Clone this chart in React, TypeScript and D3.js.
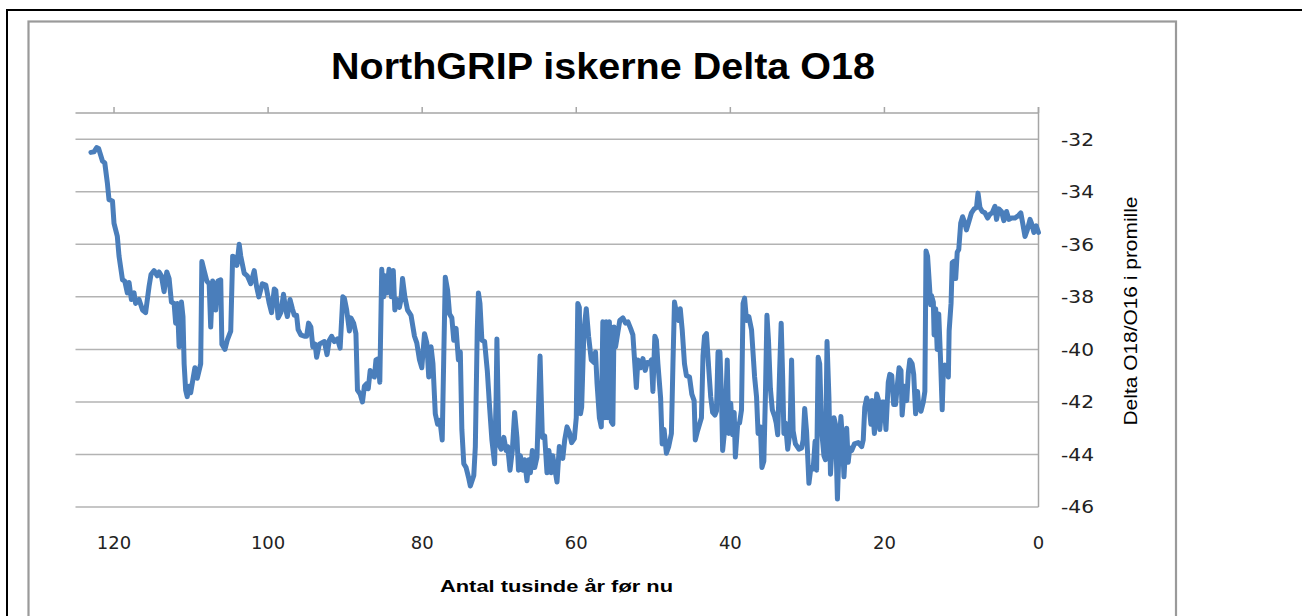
import React from "react";
import * as d3 from "d3";

const years: number[] = [
  123.0, 122.6, 122.25, 122.0, 121.5, 121.2, 120.87, 120.65, 120.2, 120.0, 119.57, 119.35, 118.9, 118.6, 118.27, 118.05,
  117.75, 117.4, 117.2, 116.75, 116.3, 115.9, 115.45, 115.2, 114.8, 114.4, 114.15, 113.85, 113.5, 113.15, 112.85, 112.55,
  112.2, 112.0, 111.77, 111.55, 111.25, 111.05, 110.9, 110.7, 110.5, 110.25, 110.05, 109.85, 109.5, 109.2, 108.75, 108.6,
  108.3, 107.95, 107.65, 107.45, 107.2, 107.0, 106.8, 106.5, 106.15, 106.0, 105.6, 105.3, 104.85, 104.6, 104.3, 104.05,
  103.75, 103.55, 103.1, 102.7, 102.25, 101.8, 101.5, 101.2, 100.75, 100.3, 99.85, 99.55, 99.2, 99.0, 98.7, 98.35,
  98.0, 97.7, 97.5, 97.15, 96.85, 96.6, 96.3, 96.1, 95.75, 95.3, 95.0, 94.75, 94.45, 94.2, 93.9, 93.7,
  93.35, 92.7, 92.35, 92.05, 91.75, 91.4, 91.0, 90.65, 90.3, 90.1, 89.8, 89.45, 89.25, 88.9, 88.6, 88.4,
  88.05, 87.75, 87.5, 87.2, 87.0, 86.75, 86.45, 86.2, 86.0, 85.7, 85.5, 85.25, 85.0, 84.85, 84.6, 84.3,
  84.0, 83.75, 83.55, 83.3, 82.95, 82.75, 82.55, 82.25, 81.9, 81.45, 81.0, 80.7, 80.35, 80.05, 79.7, 79.4,
  79.15, 78.85, 78.6, 78.3, 78.0, 77.7, 77.4, 77.2, 77.0, 76.7, 76.45, 76.15, 75.9, 75.6, 75.3, 75.05,
  74.85, 74.6, 74.3, 74.0, 73.75, 73.3, 73.1, 72.85, 72.7, 72.5, 72.25, 71.9, 71.55, 71.25, 70.95, 70.6,
  70.4, 70.3, 70.05, 69.75, 69.4, 69.1, 68.9, 68.6, 68.3, 68.0, 67.7, 67.5, 67.25, 66.95, 66.7, 66.4,
  66.15, 65.95, 65.7, 65.4, 65.1, 64.9, 64.7, 64.4, 64.1, 63.8, 63.55, 63.25, 63.05, 62.75, 62.5, 62.2,
  61.75, 61.5, 61.2, 60.9, 60.6, 60.25, 60.0, 59.8, 59.6, 59.45, 59.3, 59.0, 58.7, 58.4, 58.05, 57.7,
  57.5, 57.3, 57.0, 56.75, 56.55, 56.3, 56.1, 55.9, 55.7, 55.45, 55.25, 55.1, 54.9, 54.6, 54.35, 53.95,
  53.6, 53.3, 52.95, 52.65, 52.4, 52.2, 52.0, 51.65, 51.35, 51.05, 50.8, 50.5, 50.25, 50.05, 49.8, 49.6,
  49.4, 49.05, 48.85, 48.6, 48.3, 48.0, 47.65, 47.45, 47.25, 47.0, 46.7, 46.5, 46.25, 45.95, 45.7, 45.3,
  45.0, 44.7, 44.55, 44.3, 44.0, 43.75, 43.55, 43.35, 43.1, 42.8, 42.55, 42.3, 42.0, 41.8, 41.6, 41.35,
  41.15, 41.0, 40.7, 40.4, 40.2, 39.95, 39.7, 39.5, 39.35, 39.05, 38.8, 38.55, 38.35, 38.15, 37.9, 37.6,
  37.25, 36.85, 36.6, 36.4, 36.1, 35.9, 35.65, 35.45, 35.25, 35.05, 34.8, 34.55, 34.25, 34.05, 33.85, 33.6,
  33.4, 33.2, 33.05, 32.85, 32.55, 32.25, 32.05, 31.85, 31.55, 31.1, 30.75, 30.55, 30.35, 30.1, 29.8, 29.55,
  29.25, 29.0, 28.8, 28.6, 28.4, 28.15, 27.85, 27.65, 27.45, 27.2, 27.0, 26.8, 26.55, 26.35, 26.1, 25.9,
  25.65, 25.45, 25.25, 24.9, 24.7, 24.5, 24.25, 23.9, 23.4, 22.95, 22.75, 22.55, 22.3, 22.0, 21.75, 21.6,
  21.3, 21.0, 20.8, 20.6, 20.3, 20.05, 19.8, 19.5, 19.3, 19.05, 18.8, 18.55, 18.3, 18.1, 17.85, 17.7,
  17.4, 17.1, 16.9, 16.7, 16.4, 16.2, 15.95, 15.7, 15.55, 15.25, 14.95, 14.75, 14.6, 14.4, 14.2, 14.0,
  13.9, 13.65, 13.55, 13.35, 13.15, 12.95, 12.7, 12.5, 12.35, 12.15, 11.95, 11.7, 11.6, 11.35, 11.2, 11.0,
  10.75, 10.55, 10.35, 10.1, 9.85, 9.55, 9.35, 9.05, 8.7, 8.35, 8.05, 7.85, 7.6, 7.3, 6.95, 6.6,
  6.3, 6.0, 5.65, 5.45, 5.15, 4.8, 4.5, 4.15, 3.85, 3.5, 3.05, 2.6, 2.3, 2.05, 1.75, 1.45,
  1.1, 0.9, 0.6, 0.3, 0.0,
];

const delta: number[] = [
  -32.5, -32.48, -32.32, -32.35, -32.83, -32.9, -33.65, -34.3, -34.35, -35.2, -35.7, -36.45, -37.35, -37.4, -37.85, -37.45,
  -38.1, -37.85, -38.25, -38.1, -38.5, -38.6, -37.6, -37.15, -37.0, -37.2, -37.05, -37.2, -37.8, -37.05, -37.3, -38.2,
  -38.25, -39.0, -38.25, -39.9, -38.2, -38.75, -40.55, -41.55, -41.8, -41.4, -41.65, -41.3, -40.7, -41.1, -40.55, -36.65,
  -37.0, -37.4, -37.5, -39.15, -37.4, -37.5, -38.5, -37.4, -37.35, -39.8, -40.0, -39.65, -39.3, -36.45, -36.5, -36.8,
  -36.0, -36.45, -37.1, -37.2, -37.5, -37.0, -37.6, -38.0, -37.5, -37.55, -38.25, -38.6, -37.7, -37.75, -38.8, -38.6,
  -37.9, -38.5, -38.75, -38.1, -38.45, -38.7, -38.7, -39.25, -39.45, -39.5, -39.5, -39.0, -39.15, -39.9, -39.8, -40.3,
  -39.8, -39.7, -40.2, -39.65, -39.5, -39.7, -39.6, -39.95, -38.0, -38.05, -38.5, -39.3, -38.8, -39.0, -39.4, -41.55,
  -41.7, -42.0, -41.4, -41.3, -41.5, -40.8, -41.0, -41.05, -40.4, -40.35, -41.25, -36.95, -38.0, -37.2, -37.85, -36.95,
  -38.0, -37.0, -38.5, -38.1, -38.4, -38.1, -37.3, -38.0, -38.5, -38.7, -39.5, -39.75, -40.4, -40.7, -39.4, -39.75,
  -41.05, -39.9, -40.55, -42.45, -42.85, -42.7, -43.45, -40.3, -37.25, -37.75, -38.65, -38.8, -39.65, -39.2, -40.4, -40.1,
  -43.05, -44.35, -44.5, -44.85, -45.2, -44.8, -43.7, -39.25, -37.85, -38.25, -39.65, -39.7, -40.8, -42.2, -43.45, -44.35,
  -41.8, -39.6, -43.6, -43.8, -43.35, -43.85, -43.7, -44.6, -43.85, -42.4, -43.35, -44.6, -44.05, -44.6, -44.2, -45.0,
  -44.2, -44.7, -43.85, -44.5, -44.1, -42.2, -40.25, -43.35, -43.3, -44.7, -43.85, -44.7, -44.05, -44.6, -45.05, -43.7,
  -44.15, -43.45, -42.95, -43.15, -43.55, -43.4, -42.6, -38.25, -38.4, -42.45, -42.2, -39.25, -38.45, -39.5, -40.4, -40.5,
  -40.1, -41.3, -42.6, -42.95, -38.95, -42.6, -38.95, -42.6, -38.95, -42.75, -42.85, -39.15, -39.9, -39.35, -38.9, -38.8,
  -39.0, -38.95, -39.2, -39.45, -40.55, -41.45, -40.4, -40.7, -40.35, -40.8, -40.5, -40.55, -40.4, -41.6, -39.5, -39.65,
  -40.55, -41.85, -43.6, -43.05, -43.95, -43.7, -43.2, -40.55, -38.2, -38.6, -38.9, -38.45, -39.25, -40.55, -41.0, -41.05,
  -41.7, -41.95, -43.45, -43.15, -42.85, -42.6, -40.25, -39.5, -39.4, -40.75, -41.8, -42.4, -42.5, -42.35, -40.1, -40.1,
  -41.8, -43.85, -42.95, -40.4, -43.2, -42.05, -43.25, -42.4, -44.1, -42.85, -42.8, -42.3, -38.25, -38.05, -38.9, -38.75,
  -39.25, -41.05, -41.8, -43.2, -42.95, -44.5, -44.25, -41.8, -38.7, -39.65, -41.5, -42.3, -42.55, -42.8, -43.25, -40.8,
  -39.0, -41.15, -43.2, -42.8, -43.8, -43.1, -40.4, -43.1, -43.6, -43.8, -43.75, -43.45, -42.25, -43.15, -45.1, -44.5,
  -44.55, -43.5, -44.6, -40.3, -40.55, -43.1, -44.05, -44.2, -39.7, -41.85, -44.75, -43.7, -42.6, -42.85, -45.7, -43.85,
  -42.55, -43.4, -44.85, -43.0, -44.3, -43.75, -43.85, -43.6, -43.55, -43.7, -43.45, -42.2, -41.85, -42.1, -42.85, -41.95,
  -43.2, -41.7, -41.9, -43.05, -42.0, -42.0, -43.05, -41.25, -40.95, -41.0, -42.1, -42.1, -41.3, -40.7, -40.8, -42.5,
  -41.4, -41.95, -40.9, -40.4, -40.55, -40.95, -42.45, -41.6, -42.15, -42.35, -42.0, -41.6, -36.25, -36.45, -37.35, -38.3,
  -37.95, -38.2, -39.45, -38.45, -40.0, -38.65, -40.5, -42.3, -40.8, -40.6, -40.65, -41.05, -39.3, -38.25, -36.7, -36.65,
  -37.3, -36.3, -36.2, -35.2, -34.95, -35.2, -35.45, -35.15, -34.8, -34.65, -34.6, -34.05, -34.6, -34.75, -34.8, -35.0,
  -34.85, -34.8, -34.55, -35.05, -34.65, -34.75, -35.1, -34.75, -35.05, -35.0, -35.0, -34.9, -34.8, -35.2, -35.7, -35.45,
  -35.05, -35.2, -35.55, -35.3, -35.55,
];

const xTicks: number[] = [120, 100, 80, 60, 40, 20, 0];
const yTicks: number[] = [-32, -34, -36, -38, -40, -42, -44, -46];

const TITLE = "NorthGRIP iskerne Delta O18";
const X_TITLE = "Antal tusinde år før nu";
const Y_TITLE = "Delta O18/O16 i promille";

export default function App() {
  const W = 1302;
  const H = 616;
  const left = 75.5;
  const right = 1038.5;
  const top = 113;
  const bottom = 507;

  const x = d3.scaleLinear().domain([125, 0]).range([left, right]);
  const y = d3.scaleLinear().domain([-46, -31]).range([bottom, top]);

  const pts: [number, number][] = years.map((yr, i) => [yr, delta[i]]);
  const line = d3
    .line<[number, number]>()
    .x((d) => x(d[0]))
    .y((d) => y(d[1]));

  const font = "'Liberation Sans', 'DejaVu Sans', sans-serif";

  return (
    <svg
      width={W}
      height={H}
      style={{ position: "fixed", left: 0, top: 0, background: "#fff" }}
      fontFamily={font}
    >
      <rect x={0} y={0} width={W} height={H} fill="#fff" />
      {/* outer black frame */}
      <rect x={7} y={10} width={W + 20} height={H + 20} fill="none" stroke="#000" strokeWidth={2} />
      {/* inner gray chart frame */}
      <rect x={28.5} y={21.5} width={1176 - 28.5} height={H + 20} fill="none" stroke="#9a9a9a" strokeWidth={2.2} />

      {/* title */}
      <text
        x={603}
        y={79}
        textAnchor="middle"
        fontSize={36}
        fontWeight="bold"
        fill="#000"
        textLength={544}
        lengthAdjust="spacingAndGlyphs"
      >
        {TITLE}
      </text>

      {/* gridlines */}
      {yTicks.map((t) => (
        <line key={"g" + t} x1={left} x2={right} y1={y(t)} y2={y(t)} stroke="#b3b3b3" strokeWidth={1.5} />
      ))}
      {/* top x axis line with ticks */}
      <line x1={left} x2={right} y1={top} y2={top} stroke="#a6a6a6" strokeWidth={1.5} />
      {xTicks.map((t) => (
        <line key={"xt" + t} x1={x(t)} x2={x(t)} y1={top} y2={top - 6} stroke="#a6a6a6" strokeWidth={1.5} />
      ))}
      {/* right y axis line */}
      <line x1={right} x2={right} y1={top - 6} y2={bottom} stroke="#a6a6a6" strokeWidth={1.5} />

      {/* data line */}
      <path
        d={line(pts) || ""}
        fill="none"
        stroke="#4a7ebb"
        strokeWidth={5}
        strokeLinejoin="round"
        strokeLinecap="round"
      />

      {/* y tick labels */}
      {yTicks.map((t) => (
        <text
          key={"yl" + t}
          x={1061}
          y={y(t)}
          dy="0.36em"
          fontSize={18}
          fill="#222"
          fontFamily="'DejaVu Sans', sans-serif"
          textLength={33}
          lengthAdjust="spacingAndGlyphs"
        >
          {String(t)}
        </text>
      ))}
      {/* x tick labels */}
      {xTicks.map((t) => (
        <text
          key={"xl" + t}
          x={x(t)}
          y={549}
          textAnchor="middle"
          fontSize={18}
          fill="#222"
          fontFamily="'DejaVu Sans', sans-serif"
        >
          {String(t)}
        </text>
      ))}

      {/* axis titles */}
      <text
        x={556.5}
        y={592}
        textAnchor="middle"
        fontSize={17}
        fontWeight="bold"
        fill="#000"
        textLength={233}
        lengthAdjust="spacingAndGlyphs"
      >
        {X_TITLE}
      </text>
      <text
        transform={`translate(1137, 311) rotate(-90)`}
        textAnchor="middle"
        fontSize={18}
        fill="#000"
        textLength={229}
        lengthAdjust="spacingAndGlyphs"
      >
        {Y_TITLE}
      </text>
    </svg>
  );
}
